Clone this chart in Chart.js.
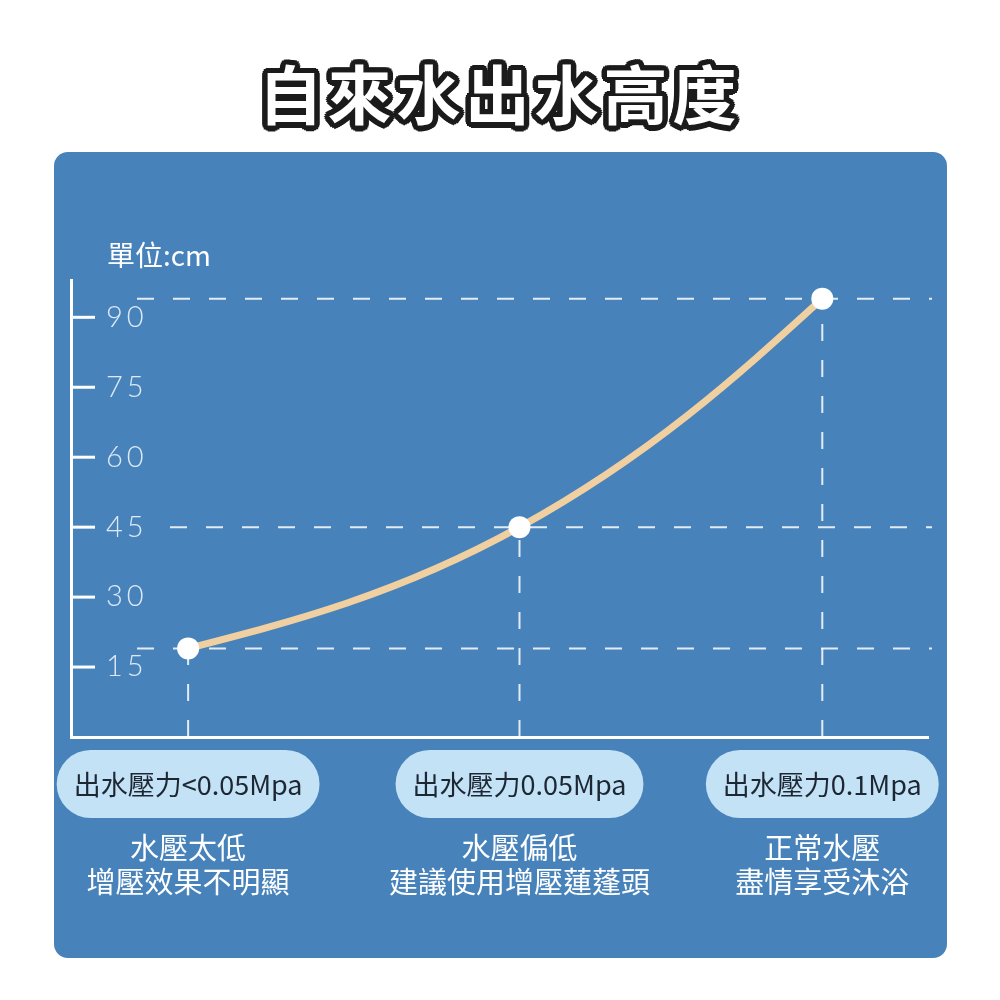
<!DOCTYPE html>
<html>
<head>
<meta charset="utf-8">
<script src="https://cdn.jsdelivr.net/npm/chart.js@4.4.1/dist/chart.umd.min.js"></script>
<style>
  html, body { margin: 0; padding: 0; background: #fff; }
  body { width: 1000px; height: 1000px; position: relative; overflow: hidden; font-family: "Noto Sans CJK TC", "Noto Sans", sans-serif; }
  #title { position: absolute; top: 46px; left: 0; width: 1000px; text-align: center; font-size: 64px; font-weight: 700; color: #fff; line-height: 90px; letter-spacing: 5px; }
  #panel { position: absolute; left: 54px; top: 152px; width: 893px; height: 806px; background: #4783ba; border-radius: 14px; }
</style>
</head>
<body>
<div id="title">自來水出水高度</div>
<div id="panel"><canvas id="waterChart"></canvas></div>
<script>
const categories = ['出水壓力<0.05Mpa', '出水壓力0.05Mpa', '出水壓力0.1Mpa'];
const notes = [['水壓太低', '增壓效果不明顯'], ['水壓偏低', '建議使用增壓蓮蓬頭'], ['正常水壓', '盡情享受沐浴']];
const xPositions = [0.41, 1.57, 2.63];
const heights = [19, 45, 94];
const yTicks = [15, 30, 45, 60, 75, 90];
const unitLabel = '單位:cm';

// outline for the title
const ring = [];
for (let a = 0; a < 360; a += 22.5) {
  const r = a * Math.PI / 180;
  ring.push(`${(5.5 * Math.cos(r)).toFixed(1)}px ${(5.5 * Math.sin(r)).toFixed(1)}px 0 #1b1b1b`);
}
document.getElementById('title').style.textShadow = ring.join(',');

const cjk = '"Noto Sans CJK TC", "Noto Sans", sans-serif';

// softer end tangents so the curve bends the same way all along
const smoothEnds = {
  id: 'smoothEnds',
  beforeDatasetDraw(chart, args) {
    const line = args.meta.dataset;
    if (!line || !line.updateControlPoints) return;
    line.updateControlPoints(chart.chartArea, 'x');
    const pts = line.points;
    if (pts.length < 3) return;
    const a = pts[0], b = pts[1];
    a.cp2x = (a.x + b.cp1x) / 2;
    a.cp2y = (a.y + b.cp1y) / 2;
    const z = pts[pts.length - 1], w = pts[pts.length - 2];
    z.cp1x = (z.x + w.cp2x) / 2;
    z.cp1y = (z.y + w.cp2y) / 2;
  }
};

const overlay = {
  id: 'overlay',
  beforeDraw(chart) {
    // wide tracking for the y tick labels
    chart.ctx.letterSpacing = '4px';
  },
  beforeDatasetsDraw(chart) {
    const { ctx, chartArea, scales: { x, y } } = chart;
    ctx.letterSpacing = '0px';
    ctx.save();
    // inner tick marks
    ctx.strokeStyle = '#ffffff';
    ctx.lineWidth = 3;
    yTicks.forEach(v => {
      const py = y.getPixelForValue(v);
      ctx.beginPath();
      ctx.moveTo(chartArea.left, py);
      ctx.lineTo(chartArea.left + 24, py);
      ctx.stroke();
    });
    // dashed guide lines
    ctx.setLineDash([17, 19]);
    ctx.lineWidth = 2;
    ctx.strokeStyle = 'rgba(255,255,255,0.85)';
    heights.forEach((h, i) => {
      const px = x.getPixelForValue(xPositions[i]);
      const py = y.getPixelForValue(h);
      // keep clear of a tick label on the same height
      const onLabel = yTicks.some(v => Math.abs(y.getPixelForValue(v) - py) < 12);
      ctx.beginPath();
      ctx.moveTo(chartArea.left + (onLabel ? 99 : 66), py);
      ctx.lineTo(chartArea.right + 4, py);
      ctx.stroke();
      ctx.beginPath();
      ctx.moveTo(px, chartArea.bottom);
      ctx.lineTo(px, py);
      ctx.stroke();
    });
    ctx.restore();
  },
  afterDraw(chart) {
    const { ctx, chartArea, scales: { x } } = chart;
    ctx.save();
    ctx.letterSpacing = '0px';
    ctx.textBaseline = 'middle';
    // unit
    ctx.fillStyle = '#ffffff';
    ctx.font = '28px ' + cjk;
    ctx.textAlign = 'left';
    ctx.fillText(unitLabel, chartArea.left + 36, chartArea.top - 25);
    // pills + notes
    categories.forEach((c, i) => {
      const cx = x.getPixelForValue(xPositions[i]);
      ctx.font = '27px ' + cjk;
      const w = ctx.measureText(c).width + 34;
      const top = chartArea.bottom + 13, h = 68;
      ctx.fillStyle = '#c3e2f6';
      ctx.beginPath();
      ctx.roundRect(cx - w / 2, top, w, h, h / 2);
      ctx.fill();
      ctx.fillStyle = '#1d2733';
      ctx.textAlign = 'center';
      ctx.fillText(c, cx, top + h / 2 + 1);
      ctx.fillStyle = '#ffffff';
      ctx.font = '29px ' + cjk;
      notes[i].forEach((t, k) => ctx.fillText(t, cx, chartArea.bottom + 111 + k * 34));
    });
    ctx.restore();
  }
};

new Chart(document.getElementById('waterChart'), {
  type: 'line',
  data: {
    datasets: [{
      data: heights.map((h, i) => ({ x: xPositions[i], y: h })),
      borderColor: '#f0cfa0',
      borderWidth: 7,
      tension: 0.4,
      pointRadius: 11,
      pointBackgroundColor: '#ffffff',
      pointBorderWidth: 0,
      pointHoverRadius: 11
    }]
  },
  options: {
    responsive: true,
    maintainAspectRatio: false,
    animation: false,
    layout: { padding: { left: 17, right: 19, top: 128, bottom: 221 } },
    plugins: { legend: { display: false }, tooltip: { enabled: false } },
    scales: {
      x: {
        type: 'linear',
        min: 0,
        max: 3,
        grid: { drawOnChartArea: false, drawTicks: false },
        border: { color: '#ffffff', width: 3 },
        ticks: { display: false },
        afterFit: s => { s.height = 0; }
      },
      y: {
        min: 0,
        max: 98,
        grid: { drawOnChartArea: false, drawTicks: false },
        border: { color: '#ffffff', width: 3 },
        ticks: {
          mirror: true,
          padding: 35,
          color: '#dde9f5',
          font: { size: 29, weight: 300, family: 'Lato, "Noto Sans", sans-serif' }
        },
        afterBuildTicks: s => { s.ticks = yTicks.map(v => ({ value: v })); },
        afterFit: s => { s.width = 0; }
      }
    }
  },
  plugins: [smoothEnds, overlay]
});
</script>
</body>
</html>
